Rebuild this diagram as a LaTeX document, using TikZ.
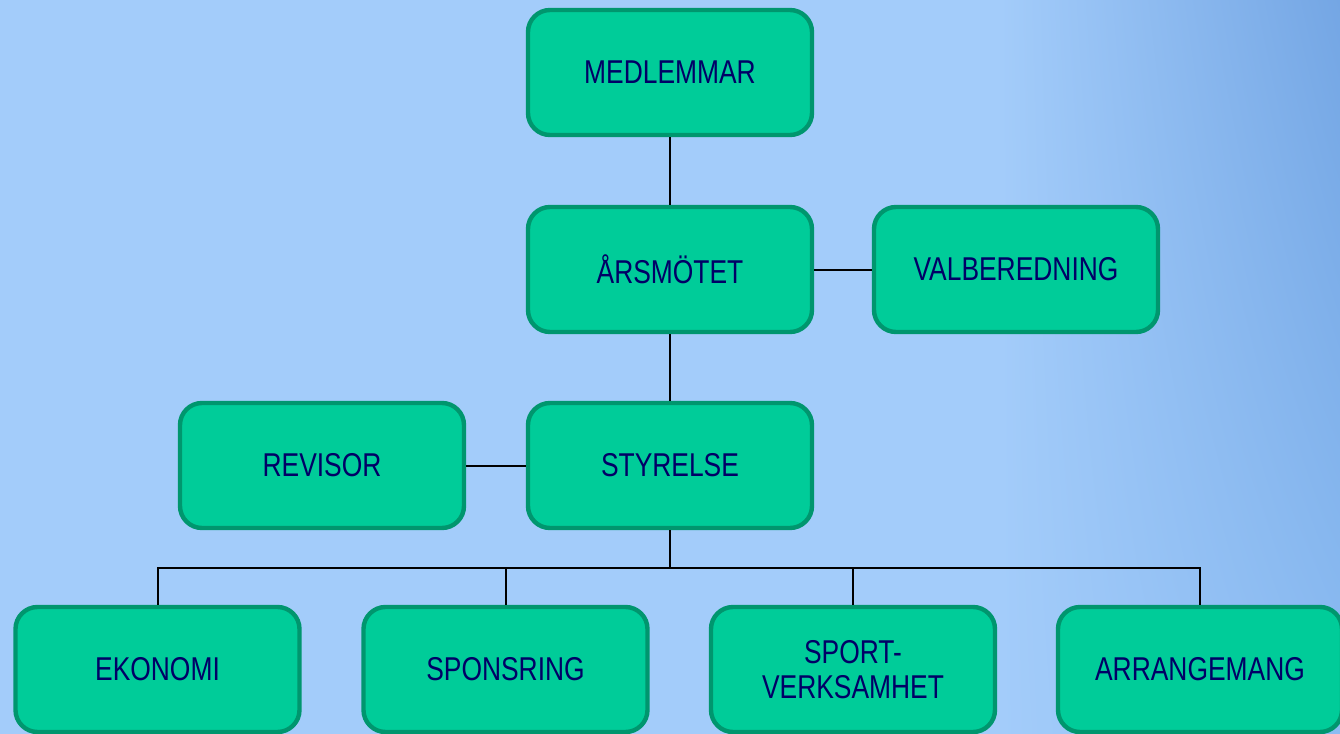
\documentclass[tikz,border=0pt]{standalone}
\usepackage{fontspec}
\usetikzlibrary{shadings}
\newfontfamily\boxfont[FakeStretch=0.8]{Liberation Sans}
\definecolor{boxfill}{RGB}{0,204,153}
\definecolor{boxline}{RGB}{0,150,110}
\definecolor{boxtext}{RGB}{0,0,102}
\definecolor{bgA}{RGB}{163,204,250}
\definecolor{bgB}{RGB}{116,166,228}
\definecolor{bgD}{RGB}{140,188,242}
\tikzset{
  orgbox/.style={draw=boxline, fill=boxfill, line width=2.2pt, rounded corners=11pt,
    minimum width=142pt, minimum height=62.5pt, align=center,
    text=boxtext, font=\boxfont\fontsize{16.5}{17.5}\selectfont},
  link/.style={line width=1pt, black}
}
\begin{document}
\begin{tikzpicture}[x=0.5pt,y=-0.5pt]
			\useasboundingbox (0,0) rectangle (1340,734);
			\fill[bgA] (0,0) rectangle (1001,734);
			\shade[upper left=bgA, upper right=bgB, lower left=bgA, lower right=bgD] (1000,0) rectangle (1340,734);
			% top of the tree
			\node[orgbox] (medlem) at (670,72.5) {MEDLEMMAR};
			\node[orgbox] (arsmote) at (670,269.5) {ÅRSMÖTET};
			\node[orgbox] (valb) at (1016,269.5) {VALBEREDNING};
			\node[orgbox] (revisor) at (322,465.5) {REVISOR};
			\node[orgbox] (styr) at (670,465.5) {STYRELSE};
			% bottom row
			\node[orgbox] (ekonomi) at (157.5,669.5) {EKONOMI};
			\node[orgbox] (sponsring) at (505.5,669.5) {SPONSRING};
			\node[orgbox] (sport) at (853,669.5) {SPORT-\\VERKSAMHET};
			\node[orgbox] (arr) at (1200,669.5) {ARRANGEMANG};
			\coordinate (bus) at (670,568);
			\draw[link] (medlem) -- (arsmote);
			\draw[link] (arsmote) -- (styr);
			\draw[link] (arsmote) -- (valb);
			\draw[link] (revisor) -- (styr);
			\draw[link] (styr) -- (bus);
			\foreach \n in {ekonomi,sponsring,sport,arr}
				\draw[link] (bus) -| (\n);
		\end{tikzpicture}
\end{document}
